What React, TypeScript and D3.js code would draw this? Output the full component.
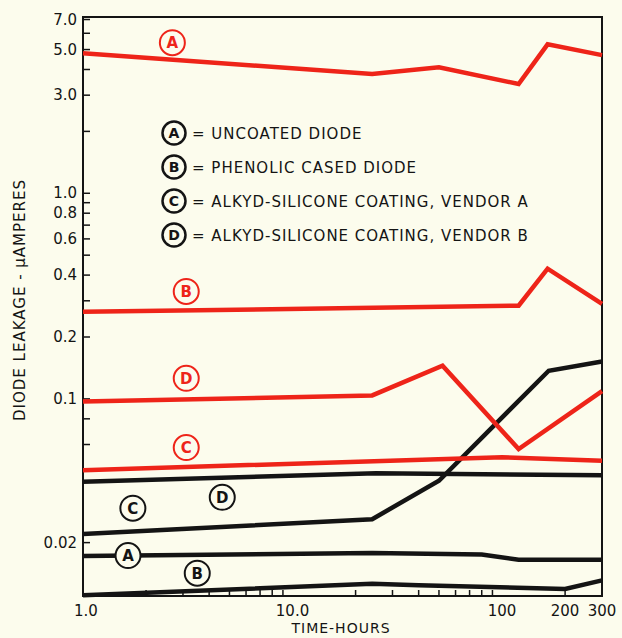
import { useEffect, useRef } from 'react';
import * as d3 from 'd3';

// time (hours) and leakage (microamperes)
const redA_t = [1, 24, 50, 120, 165, 300];
const redA_v = [4.8, 3.8, 4.1, 3.4, 5.3, 4.7];
const redB_t = [1, 120, 165, 300];
const redB_v = [0.265, 0.284, 0.43, 0.29];
const redC_t = [1, 100, 300];
const redC_v = [0.045, 0.052, 0.05];
const redD_t = [1, 24, 52, 120, 300];
const redD_v = [0.097, 0.104, 0.145, 0.057, 0.109];

const blkA_t = [1, 24, 80, 120, 300];
const blkA_v = [0.0172, 0.0178, 0.0175, 0.0165, 0.0165];
const blkB_t = [1, 24, 40, 200, 300];
const blkB_v = [0.0111, 0.0126, 0.0124, 0.0119, 0.0131];
const blkC_t = [1, 24, 50, 167, 300];
const blkC_v = [0.022, 0.026, 0.04, 0.137, 0.152];
const blkD_t = [1, 25, 300];
const blkD_v = [0.0395, 0.0435, 0.0425];

// circled letters on the curves: [letter, hours, value, colour]
const tags: [string, number, number, string][] = [
    ['A', 2.67, 5.4, 'red'],
    ['B', 3.11, 0.333, 'red'],
    ['D', 3.11, 0.126, 'red'],
    ['C', 3.11, 0.058, 'red'],
    ['C', 1.73, 0.0294, 'black'],
    ['D', 4.62, 0.0332, 'black'],
    ['A', 1.64, 0.0173, 'black'],
    ['B', 3.51, 0.0142, 'black'],
];

const legendKeys = ['A', 'B', 'C', 'D'];
const legendTexts = [
    'UNCOATED DIODE',
    'PHENOLIC CASED DIODE',
    'ALKYD-SILICONE COATING, VENDOR A',
    'ALKYD-SILICONE COATING, VENDOR B',
];

const yLabelled = [7, 5, 3, 1, 0.8, 0.6, 0.4, 0.2, 0.1, 0.02];
const yLabelText = ['7.0', '5.0', '3.0', '1.0', '0.8', '0.6', '0.4', '0.2', '0.1', '0.02'];
const yMinor = [6, 4, 2, 0.9, 0.7, 0.5, 0.3, 0.08, 0.06];
const xLabelled = [1, 10, 100, 200, 300];
const xLabelText = ['1.0', '10.0', '100', '200', '300'];
const xMinor = [2, 3, 4, 5, 6, 7, 8, 9, 20, 30, 40, 50, 60, 70, 80, 90];

const RED = '#ee2419';
const INK = '#141414';
const BG = '#fcfced';
const FONT = '"DejaVu Sans", sans-serif';

const LeakageChart = () => {
    const svgRef = useRef<SVGSVGElement>(null);

    useEffect(() => {
        if (!svgRef.current) return;
        const svg = d3.select(svgRef.current);
        svg.selectAll('*').remove();

        const width = 622;
        const height = 638;
        const left = 83, right = 602, top = 17, bottom = 596;

        svg.attr('width', width).attr('height', height);
        svg.append('rect').attr('width', width).attr('height', height).attr('fill', BG);

        const x = d3.scaleLog().domain([1, 300]).range([left, right]);
        const y = d3.scaleLog().domain([0.011, 7.2]).range([bottom, top]);

        // frame
        svg.append('rect')
            .attr('x', left).attr('y', top)
            .attr('width', right - left).attr('height', bottom - top)
            .attr('fill', 'none').attr('stroke', INK).attr('stroke-width', 2);

        // y ticks
        [...yLabelled, ...yMinor].forEach(v => {
            svg.append('line')
                .attr('x1', left).attr('x2', left + 7)
                .attr('y1', y(v)).attr('y2', y(v))
                .attr('stroke', INK).attr('stroke-width', 1.5);
        });
        yLabelled.forEach((v, i) => {
            svg.append('text')
                .attr('x', left - 6).attr('y', y(v) + 5)
                .attr('text-anchor', 'end')
                .attr('font-family', FONT).attr('font-size', 15)
                .attr('fill', INK)
                .text(yLabelText[i]);
        });

        // x ticks
        [...xMinor, 200].forEach(v => {
            svg.append('line')
                .attr('x1', x(v)).attr('x2', x(v))
                .attr('y1', bottom).attr('y2', bottom - 6)
                .attr('stroke', INK).attr('stroke-width', 1.5);
        });
        xLabelled.forEach((v, i) => {
            svg.append('text')
                .attr('x', x(v) + (i === 0 ? 3 : 0)).attr('y', 616)
                .attr('text-anchor', 'middle')
                .attr('font-family', FONT).attr('font-size', 15)
                .attr('fill', INK)
                .text(xLabelText[i]);
        });

        // axis titles
        svg.append('text')
            .attr('x', 341).attr('y', 633)
            .attr('text-anchor', 'middle')
            .attr('font-family', FONT).attr('font-size', 14)
            .attr('letter-spacing', 1)
            .attr('fill', INK)
            .text('TIME-HOURS');
        svg.append('text')
            .attr('transform', 'translate(25,300) rotate(-90)')
            .attr('text-anchor', 'middle')
            .attr('font-family', FONT).attr('font-size', 15)
            .attr('letter-spacing', 1)
            .attr('fill', INK)
            .text('DIODE LEAKAGE - \u03BCAMPERES');

        const line = d3.line<[number, number]>()
            .x(d => x(d[0]))
            .y(d => y(d[1]));

        const series: [number[], number[], string][] = [
            [blkB_t, blkB_v, INK],
            [blkA_t, blkA_v, INK],
            [blkD_t, blkD_v, INK],
            [blkC_t, blkC_v, INK],
            [redC_t, redC_v, RED],
            [redD_t, redD_v, RED],
            [redB_t, redB_v, RED],
            [redA_t, redA_v, RED],
        ];
        series.forEach(([ts, vs, c]) => {
            const pts = ts.map((t, i) => [t, vs[i]] as [number, number]);
            svg.append('path')
                .attr('d', line(pts))
                .attr('fill', 'none')
                .attr('stroke', c)
                .attr('stroke-width', 4.5)
                .attr('stroke-linejoin', 'miter');
        });

        // circled tags on curves
        tags.forEach(([letter, t, v, c]) => {
            const col = c === 'red' ? RED : INK;
            const g = svg.append('g').attr('transform', `translate(${x(t)},${y(v)})`);
            g.append('circle').attr('r', 12.5)
                .attr('fill', BG).attr('stroke', col).attr('stroke-width', 2);
            g.append('text')
                .attr('y', 5.5).attr('text-anchor', 'middle')
                .attr('font-family', FONT).attr('font-size', 15).attr('font-weight', 'bold')
                .attr('fill', col)
                .text(letter);
        });

        // legend
        legendKeys.forEach((k, i) => {
            const cy = 133 + i * 34;
            svg.append('circle').attr('cx', 174).attr('cy', cy).attr('r', 11.5)
                .attr('fill', BG).attr('stroke', INK).attr('stroke-width', 2.5);
            svg.append('text')
                .attr('x', 174).attr('y', cy + 5).attr('text-anchor', 'middle')
                .attr('font-family', FONT).attr('font-size', 14).attr('font-weight', 'bold')
                .attr('fill', INK)
                .text(k);
            svg.append('text')
                .attr('x', 192).attr('y', cy + 5.5)
                .attr('font-family', FONT).attr('font-size', 15)
                .attr('letter-spacing', 1)
                .attr('fill', INK)
                .text('= ' + legendTexts[i]);
        });
    }, []);

    return (
        <div style={{ position: 'absolute', left: 0, top: 0, width: 622, height: 638, background: BG }}>
            <svg ref={svgRef} style={{ display: 'block' }}></svg>
        </div>
    );
};

export default LeakageChart;
